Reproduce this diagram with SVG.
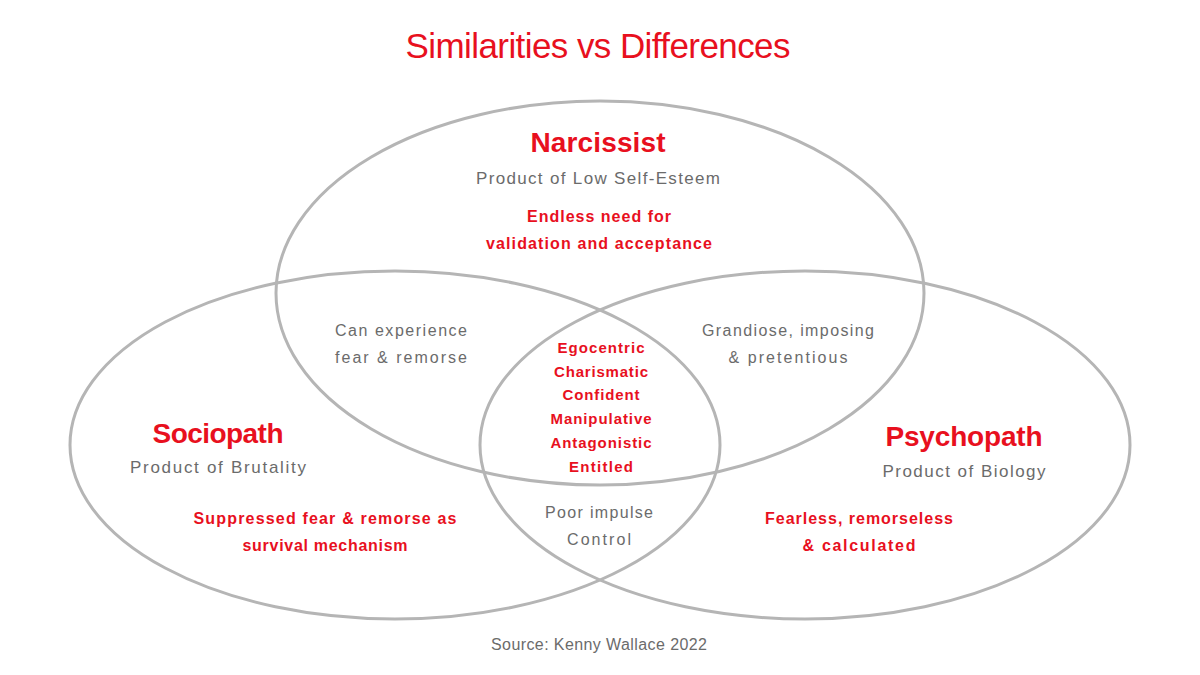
<svg xmlns="http://www.w3.org/2000/svg" width="1200" height="675" viewBox="0 0 1200 675">
<style>
.c{fill:none;stroke:#b5b5b5;stroke-width:3}
text{font-family:"Liberation Sans","DejaVu Sans",sans-serif;text-anchor:middle}
.title{fill:#e8101e;font-size:35px}
.head{fill:#e8101e;font-size:28px;font-weight:bold}
.sub{fill:#6b6b6b;font-size:17px}
.red{fill:#e8101e;font-size:16px;font-weight:bold}
.gray{fill:#6b6b6b;font-size:16px}
.mid{fill:#e8101e;font-size:15px;font-weight:bold}
</style>
<rect width="1200" height="675" fill="#ffffff"/>
<g id="connectors"></g>
<g id="narcissist">
<ellipse class="c" cx="600" cy="293" rx="324" ry="192"/>
<text class="head" x="598" y="152" textLength="135" lengthAdjust="spacing">Narcissist</text>
<text class="sub" x="598" y="184" textLength="244" lengthAdjust="spacing">Product of Low Self-Esteem</text>
<text class="red" x="599" y="222" textLength="144" lengthAdjust="spacing">Endless need for</text>
<text class="red" x="599" y="249" textLength="226" lengthAdjust="spacing">validation and acceptance</text>
</g>
<g id="sociopath">
<ellipse class="c" cx="395" cy="445" rx="325" ry="174"/>
<text class="head" x="218" y="443" textLength="131" lengthAdjust="spacing">Sociopath</text>
<text class="sub" x="218" y="473" textLength="176" lengthAdjust="spacing">Product of Brutality</text>
<text class="red" x="325" y="524" textLength="263" lengthAdjust="spacing">Suppressed fear &amp; remorse as</text>
<text class="red" x="325" y="551" textLength="165" lengthAdjust="spacing">survival mechanism</text>
</g>
<g id="psychopath">
<ellipse class="c" cx="805" cy="445" rx="325" ry="174"/>
<text class="head" x="964" y="446" textLength="157" lengthAdjust="spacing">Psychopath</text>
<text class="sub" x="964" y="477" textLength="163" lengthAdjust="spacing">Product of Biology</text>
<text class="red" x="859" y="524" textLength="188" lengthAdjust="spacing">Fearless, remorseless</text>
<text class="red" x="859" y="551" textLength="113" lengthAdjust="spacing">&amp;  calculated</text>
</g>
<g id="overlap-narc-socio">
<text class="gray" x="401" y="336" textLength="132" lengthAdjust="spacing">Can experience</text>
<text class="gray" x="401" y="363" textLength="132" lengthAdjust="spacing">fear &amp; remorse</text>
</g>
<g id="overlap-narc-psycho">
<text class="gray" x="788" y="336" textLength="172" lengthAdjust="spacing">Grandiose, imposing</text>
<text class="gray" x="788" y="363" textLength="119" lengthAdjust="spacing">&amp; pretentious</text>
</g>
<g id="overlap-all">
<text class="mid" x="601" y="353" textLength="87" lengthAdjust="spacing">Egocentric</text>
<text class="mid" x="601" y="377" textLength="94" lengthAdjust="spacing">Charismatic</text>
<text class="mid" x="601" y="400" textLength="77" lengthAdjust="spacing">Confident</text>
<text class="mid" x="601" y="424" textLength="101" lengthAdjust="spacing">Manipulative</text>
<text class="mid" x="601" y="448" textLength="101" lengthAdjust="spacing">Antagonistic</text>
<text class="mid" x="601" y="472" textLength="64" lengthAdjust="spacing">Entitled</text>
</g>
<g id="overlap-socio-psycho">
<text class="gray" x="599" y="518" textLength="108" lengthAdjust="spacing">Poor impulse</text>
<text class="gray" x="599" y="545" textLength="64" lengthAdjust="spacing">Control</text>
</g>
<g id="title">
<text class="title" x="598" y="58" textLength="385" lengthAdjust="spacing">Similarities vs Differences</text>
</g>
<g id="source">
<text class="gray" x="599" y="650" textLength="216" lengthAdjust="spacing">Source: Kenny Wallace 2022</text>
</g>
</svg>
